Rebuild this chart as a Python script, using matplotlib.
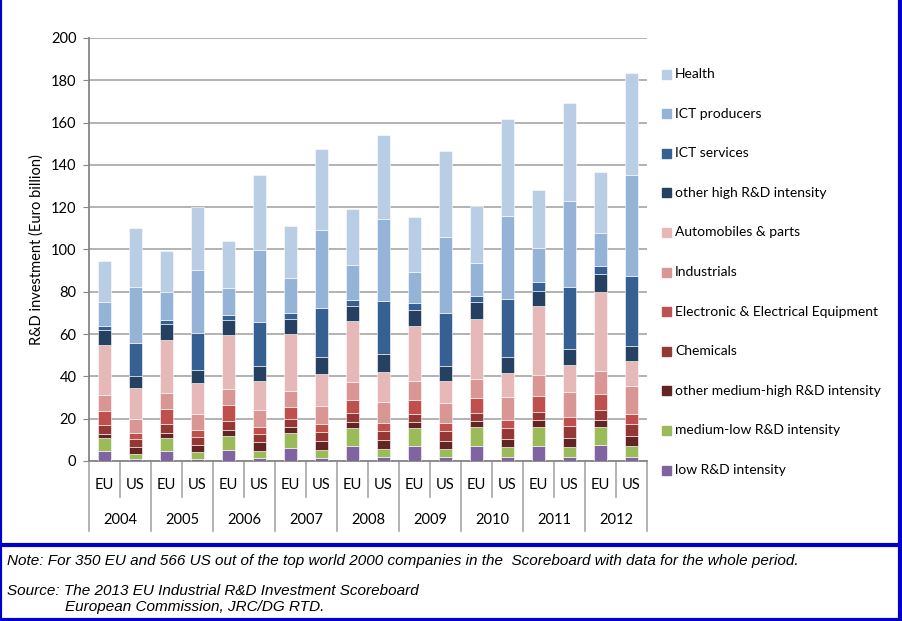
import matplotlib
matplotlib.use("Agg")
import matplotlib.pyplot as plt
from matplotlib.patches import Rectangle
from matplotlib.lines import Line2D
import matplotlib.transforms as mtransforms
import numpy as np

years = ["2004", "2005", "2006", "2007", "2008", "2009", "2010", "2011", "2012"]
regions = ["EU", "US"]

series_names = ["low R&D intensity", "medium-low R&D intensity",
                "other medium-high R&D intensity", "Chemicals",
                "Electronic & Electrical Equipment", "Industrials",
                "Automobiles & parts", "other high R&D intensity",
                "ICT services", "ICT producers", "Health"]
colors = ["#8064A2", "#9BBB59", "#632523", "#953735", "#C0504D", "#D99694",
          "#E6B9B8", "#254061", "#376092", "#95B3D7", "#B9CDE5"]

# order of bars: EU2004, US2004, EU2005, US2005, ...
low = [4.9, 0.8, 4.9, 0.8, 5.0, 1.3, 6.1, 1.3, 6.9, 1.7, 6.9, 1.7, 7.1, 1.7, 7.1, 1.7, 7.4, 1.7]
medium_low = [5.8, 2.3, 6.1, 3.3, 7.0, 3.6, 7.3, 4.1, 8.8, 4.0, 8.7, 4.0, 8.8, 4.8, 9.1, 4.9, 8.7, 5.5]
other_medium_high = [2.2, 3.5, 2.2, 3.6, 2.5, 3.9, 2.5, 4.2, 2.7, 4.1, 2.8, 3.9, 3.0, 4.1, 3.0, 4.3, 3.4, 4.6]
chemicals = [4.0, 3.6, 4.3, 3.8, 4.6, 4.0, 3.9, 3.9, 4.1, 4.2, 4.0, 4.6, 3.8, 5.0, 3.9, 5.5, 4.4, 5.8]
electronic = [6.9, 3.2, 7.1, 3.0, 7.2, 3.1, 5.6, 3.8, 6.2, 3.8, 6.6, 3.8, 7.1, 3.9, 7.6, 4.2, 7.8, 4.6]
industrials = [7.2, 6.6, 7.4, 7.7, 7.6, 8.2, 7.8, 8.7, 8.5, 9.9, 8.8, 9.2, 8.9, 10.7, 9.8, 11.8, 10.7, 13.1]
automobiles = [24.0, 14.3, 25.2, 14.5, 25.6, 13.9, 27.0, 15.1, 28.8, 14.5, 26.1, 10.6, 28.4, 11.5, 32.6, 12.8, 37.4, 11.9]
other_high = [7.0, 5.7, 7.5, 6.1, 7.0, 6.9, 7.0, 8.0, 7.1, 8.2, 7.3, 7.1, 7.9, 7.6, 7.5, 7.6, 8.4, 7.4]
ict_services = [1.6, 15.6, 2.1, 17.7, 2.3, 20.8, 3.0, 23.2, 3.1, 25.2, 3.3, 25.0, 3.1, 27.2, 3.8, 29.4, 4.2, 33.1]
ict_producers = [11.8, 26.9, 12.9, 29.9, 13.2, 34.1, 16.3, 37.1, 16.7, 38.6, 14.8, 35.8, 15.4, 39.2, 16.4, 40.9, 15.6, 47.3]
health = [19.2, 27.8, 19.4, 29.9, 22.1, 35.5, 24.8, 38.2, 26.3, 40.0, 26.0, 40.9, 27.3, 46.2, 27.5, 46.3, 28.8, 48.3]

data = [low, medium_low, other_medium_high, chemicals, electronic, industrials,
        automobiles, other_high, ict_services, ict_producers, health]

W, H = 903, 621
fig = plt.figure(figsize=(W / 100, H / 100), dpi=100)
fig.patch.set_facecolor("white")

FONT = ["Lato", "DejaVu Sans"]
NOTEFONT = ["Liberation Sans Narrow", "Liberation Sans", "DejaVu Sans"]

x0, x1 = 89, 647
ytop, ybot = 38, 461
ax = fig.add_axes([x0 / W, 1 - ybot / H, (x1 - x0) / W, (ybot - ytop) / H])

n = len(low)
xpos = np.arange(n) + 0.5
bottom = np.zeros(n)
bars = []
for vals, col, name in zip(data, colors, series_names):
    b = ax.bar(xpos, vals, width=0.4, bottom=bottom, color=col,
               edgecolor="white", linewidth=0.4, label=name, zorder=3)
    bars.append(b)
    bottom = bottom + np.array(vals)

ax.set_xlim(0, n)
ax.set_ylim(0, 200)
ax.set_yticks(np.arange(0, 201, 20))
ax.set_xticks([])
ax.yaxis.grid(True, color="#A6A6A6", linewidth=1.2, zorder=0)
ax.set_axisbelow(True)
for s in ["top", "right"]:
    ax.spines[s].set_visible(False)
ax.spines["left"].set_color("#868686")
ax.spines["left"].set_linewidth(1.3)
ax.spines["bottom"].set_color("#868686")
ax.spines["bottom"].set_linewidth(1.3)
ax.tick_params(axis="y", length=4, color="#868686", labelsize=10.5, pad=5)
for lab in ax.get_yticklabels():
    lab.set_fontfamily(FONT)
ax.set_ylabel("R&D investment (Euro billion)", fontsize=10.5, family=FONT, labelpad=5)

# two-level category axis
trans = mtransforms.blended_transform_factory(ax.transData, ax.transAxes)
h_px = ybot - ytop
def yfrac(py):
    return (ybot - py) / h_px

for i in range(n + 1):
    if i % 2 == 0:
        yb = yfrac(531)
    else:
        yb = yfrac(497)
    ax.add_line(Line2D([i, i], [0, yb], transform=trans, color="#A6A6A6",
                       linewidth=1.2, clip_on=False))
for i in range(n):
    ax.text(i + 0.5, yfrac(485), regions[i % 2], transform=trans, ha="center",
            va="center", fontsize=10.5, family=FONT)
for j, yr in enumerate(years):
    ax.text(2 * j + 1, yfrac(520), yr, transform=trans, ha="center",
            va="center", fontsize=10.5, family=FONT)

# legend (manual, top to bottom)
leg_y0 = 74
leg_dy = 39.6
for k in range(len(series_names)):
    idx = len(series_names) - 1 - k
    py = leg_y0 + k * leg_dy
    fig.patches.append(Rectangle(((662) / W, 1 - (py + 4.5) / H), 9 / W, 9 / H,
                                 transform=fig.transFigure, color=colors[idx]))
    fig.text(675 / W, 1 - py / H, series_names[idx], ha="left", va="center",
             fontsize=10, family=FONT)

# frame lines
blue = "#0000CC"
fig.add_artist(Line2D([0, 0], [0, 1], transform=fig.transFigure, color=blue, linewidth=3))
fig.add_artist(Line2D([900.5 / W, 900.5 / W], [0, 1], transform=fig.transFigure, color=blue, linewidth=3))
fig.add_artist(Line2D([0, 1], [1 - 545 / H, 1 - 545 / H], transform=fig.transFigure, color=blue, linewidth=3))
fig.add_artist(Line2D([0, 1], [1 - 619.5 / H, 1 - 619.5 / H], transform=fig.transFigure, color=blue, linewidth=3))

# notes
NS = 11
fig.text(7 / W, 1 - 561 / H,
         "Note: For 350 EU and 566 US out of the top world 2000 companies in the  Scoreboard with data for the whole period.",
         ha="left", va="center", fontsize=NS, style="italic", family=NOTEFONT)
fig.text(7 / W, 1 - 591 / H, "Source: The 2013 EU Industrial R&D Investment Scoreboard",
         ha="left", va="center", fontsize=NS, style="italic", family=NOTEFONT)
fig.text(65 / W, 1 - 607 / H, "European Commission, JRC/DG RTD.",
         ha="left", va="center", fontsize=NS, style="italic", family=NOTEFONT)

fig.savefig("out.png", dpi=100, facecolor="white")
